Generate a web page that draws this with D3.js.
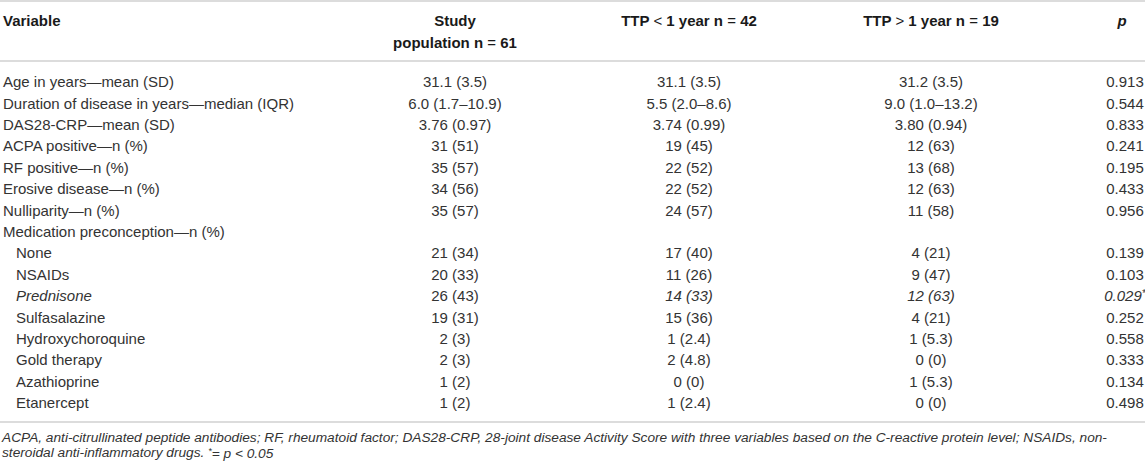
<!DOCTYPE html>
<html>
<head>
<meta charset="utf-8">
<script src="https://cdn.jsdelivr.net/npm/d3@7"></script>
<style>
	body{margin:0;background:#fff;}
	svg text{font-family:"Liberation Sans",Arial,sans-serif;fill:#333;}
</style>
</head>
<body>
<div id="table"></div>
<script>
//Table content
const variables = [
	'Age in years—mean (SD)',
	'Duration of disease in years—median (IQR)',
	'DAS28-CRP—mean (SD)',
	'ACPA positive—n (%)',
	'RF positive—n (%)',
	'Erosive disease—n (%)',
	'Nulliparity—n (%)',
	'Medication preconception—n (%)',
	'None',
	'NSAIDs',
	'Prednisone',
	'Sulfasalazine',
	'Hydroxychoroquine',
	'Gold therapy',
	'Azathioprine',
	'Etanercept'
];
const subRow = [0,0,0,0,0,0,0,0,1,1,1,1,1,1,1,1];

const studyPop = ['31.1 (3.5)','6.0 (1.7–10.9)','3.76 (0.97)','31 (51)','35 (57)','34 (56)','35 (57)','',
	'21 (34)','20 (33)','26 (43)','19 (31)','2 (3)','2 (3)','1 (2)','1 (2)'];
const ttpLess = ['31.1 (3.5)','5.5 (2.0–8.6)','3.74 (0.99)','19 (45)','22 (52)','22 (52)','24 (57)','',
	'17 (40)','11 (26)','14 (33)','15 (36)','1 (2.4)','2 (4.8)','0 (0)','1 (2.4)'];
const ttpMore = ['31.2 (3.5)','9.0 (1.0–13.2)','3.80 (0.94)','12 (63)','13 (68)','12 (63)','11 (58)','',
	'4 (21)','9 (47)','12 (63)','4 (21)','1 (5.3)','0 (0)','1 (5.3)','0 (0)'];
const pValues = ['0.913','0.544','0.833','0.241','0.195','0.433','0.956','',
	'0.139','0.103','0.029','0.252','0.558','0.333','0.134','0.498'];
const significant = [10]; // rows with p < 0.05

const footnote = [
	'ACPA, anti-citrullinated peptide antibodies; RF, rheumatoid factor; DAS28-CRP, 28-joint disease Activity Score with three variables based on the C-reactive protein level; NSAIDs, non-',
	'steroidal anti-inflammatory drugs. '
];


function drawTable(rootDOM){
	const W = 1145, H = 467;
	const lineColor = '#dcdcdc';

	const svg = d3.select(rootDOM).append('svg')
		.attr('width', W)
		.attr('height', H);

	//column centres
	const colX = {study:455, less:689, more:931, p:1125};

	//row scale
	const y = d3.scaleBand()
		.domain(d3.range(variables.length))
		.range([71.3, 71.3 + 21.4*variables.length]);
	const yc = i => y(i) + y.bandwidth()/2;

	//rules
	svg.selectAll('.rule')
		.data([1, 61, 422])
		.enter().append('line')
		.attr('class','rule')
		.attr('x1',0).attr('x2',W)
		.attr('y1',d => d).attr('y2',d => d)
		.style('stroke',lineColor)
		.style('stroke-width',2);

	//header
	const head = svg.append('g').attr('class','head')
		.style('font-size','15px')
		.style('font-weight','bold');

	head.append('text').attr('x',3).attr('y',21).attr('dy','0.35em')
		.style('fill','#1a1a1a').text('Variable');

	head.append('text').attr('x',colX.study).attr('y',21).attr('dy','0.35em')
		.attr('text-anchor','middle').style('fill','#1a1a1a').text('Study');

	const pop = head.append('text').attr('x',colX.study).attr('y',43).attr('dy','0.35em')
		.attr('text-anchor','middle').style('fill','#1a1a1a');
	pop.append('tspan').text('population n ');
	pop.append('tspan').style('font-weight','normal').text('=');
	pop.append('tspan').text(' 61');

	[[colX.less,'<','42'],[colX.more,'>','19']].forEach(h => {
		const t = head.append('text').attr('x',h[0]).attr('y',21).attr('dy','0.35em')
			.attr('text-anchor','middle').style('fill','#1a1a1a');
		t.append('tspan').text('TTP ');
		t.append('tspan').style('font-weight','normal').text(h[1]);
		t.append('tspan').text(' 1 year n ');
		t.append('tspan').style('font-weight','normal').text('=');
		t.append('tspan').text(' ' + h[2]);
	});

	head.append('text').attr('x',colX.p - 3).attr('y',21).attr('dy','0.35em')
		.attr('text-anchor','middle').style('font-style','italic')
		.style('fill','#1a1a1a').text('p');

	//body rows
	const rows = svg.selectAll('.row')
		.data(variables.map((v,i) => ({
			v, i, sub:subRow[i], study:studyPop[i], less:ttpLess[i], more:ttpMore[i], p:pValues[i],
			sig: significant.includes(i)
		})))
		.enter().append('g')
		.attr('class','row')
		.attr('transform',d => `translate(0,${yc(d.i)})`)
		.style('font-size','15px');

	rows.append('text')
		.attr('x',d => d.sub ? 16 : 3)
		.attr('dy','0.35em')
		.style('font-style',d => d.sig ? 'italic' : 'normal')
		.text(d => d.v);

	rows.append('text')
		.attr('x',colX.study).attr('dy','0.35em').attr('text-anchor','middle')
		.text(d => d.study);

	rows.append('text')
		.attr('x',colX.less).attr('dy','0.35em').attr('text-anchor','middle')
		.style('font-style',d => d.sig ? 'italic' : 'normal')
		.text(d => d.less);

	rows.append('text')
		.attr('x',colX.more).attr('dy','0.35em').attr('text-anchor','middle')
		.style('font-style',d => d.sig ? 'italic' : 'normal')
		.text(d => d.more);

	const pt = rows.append('text')
		.attr('x',colX.p).attr('dy','0.35em').attr('text-anchor','middle')
		.style('font-style',d => d.sig ? 'italic' : 'normal');
	pt.append('tspan').text(d => d.p);
	pt.filter(d => d.sig).append('tspan')
		.attr('dy','-0.4em').style('font-size','10px').text('*');

	//footnote
	const fn = svg.append('g').attr('class','foot')
		.style('font-size','13.7px')
		.style('font-style','italic');

	fn.append('text').attr('x',2).attr('y',437).attr('dy','0.35em').text(footnote[0]);
	const f2 = fn.append('text').attr('x',2).attr('y',452).attr('dy','0.35em');
	f2.append('tspan').text(footnote[1]);
	f2.append('tspan').attr('dy','-0.3em').style('font-size','9px').text('*');
	f2.append('tspan').attr('dy','0.3em').text('= p < 0.05');
}

drawTable(document.getElementById('table'));
</script>
</body>
</html>
